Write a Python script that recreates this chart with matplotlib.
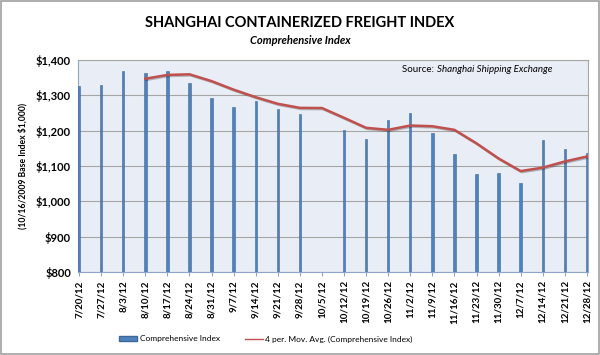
import matplotlib
matplotlib.use("Agg")
import matplotlib.pyplot as plt
import matplotlib.patheffects as pe
from matplotlib.patches import Rectangle
from matplotlib.lines import Line2D
from matplotlib.ticker import FuncFormatter
import numpy as np
import pandas as pd

# weekly dates (10/5/12 has no published value)
dates = ["7/20/12", "7/27/12", "8/3/12", "8/10/12", "8/17/12", "8/24/12",
         "8/31/12", "9/7/12", "9/14/12", "9/21/12", "9/28/12", "10/5/12",
         "10/12/12", "10/19/12", "10/26/12", "11/2/12", "11/9/12", "11/16/12",
         "11/23/12", "11/30/12", "12/7/12", "12/14/12", "12/21/12", "12/28/12"]
index_vals = [1327, 1328, 1370, 1363, 1370, 1335, 1293, 1266, 1285, 1260,
              1247, np.nan, 1202, 1175, 1230, 1251, 1194, 1134, 1077, 1080,
              1051, 1173, 1147, 1136]

plt.rcParams["font.family"] = ["Lato", "DejaVu Sans"]

s = pd.Series(index_vals, dtype=float)
ma = s.rolling(4, min_periods=1).mean()
ma.iloc[:3] = np.nan

x = np.arange(len(dates))

fig = plt.figure(figsize=(6, 3.55), dpi=100)
ax = fig.add_axes([0.13, 0.234, 0.85, 0.597])
ax.set_facecolor("#E9EEF6")

ax.bar(x, s, width=0.11, bottom=0, color="#4F81BD", edgecolor="#3C6899",
       linewidth=0.4, zorder=3, label="Comprehensive Index")
ax.plot(x, ma, color="#C0504D", linewidth=1.8, zorder=4,
        path_effects=[pe.SimpleLineShadow(offset=(0.8, -0.8), alpha=0.25),
                      pe.Normal()])

ax.set_ylim(800, 1400)
ax.set_xlim(-0.05, len(dates) - 0.95)
ax.set_yticks(range(800, 1401, 100))
ax.yaxis.set_major_formatter(FuncFormatter(lambda v, p: "${:,.0f}".format(v)))
ax.grid(axis="y", color="#A6A6A6", linewidth=0.8, zorder=1)
ax.set_axisbelow(True)

ax.set_xticks(x)
ax.set_xticklabels(dates, rotation=90, fontsize=7, fontweight="bold")
for lab in ax.get_yticklabels():
    lab.set_fontweight("bold")
ax.tick_params(axis="y", labelsize=8, length=0, pad=5)
ax.tick_params(axis="x", length=3, color="#8EA4C8", pad=3)

for side in ["top", "right"]:
    ax.spines[side].set_color("#A6A6A6")
    ax.spines[side].set_linewidth(0.8)
ax.spines["left"].set_color("#8EA4C8")
ax.spines["bottom"].set_color("#8EA4C8")

ax.set_ylabel("(10/16/2009 Base Index $1,000)", fontsize=6.2, fontweight="bold",
              labelpad=6)

fig.text(0.5, 0.935, "SHANGHAI CONTAINERIZED FREIGHT INDEX", ha="center",
         va="center", fontsize=10.5, fontweight="bold")
fig.text(0.5, 0.885, "Comprehensive Index", ha="center", va="center",
         fontsize=8, fontweight="bold", style="italic")

ax.text(0.703, 0.955, "Source: ", transform=ax.transAxes, ha="right",
        va="center", fontsize=7)
ax.text(0.703, 0.955, "Shanghai Shipping Exchange", transform=ax.transAxes,
        ha="left", va="center", fontsize=7, style="italic")

handles = [Rectangle((0, 0), 1, 1, facecolor="#4F81BD", edgecolor="#3C6899"),
           Line2D([0], [0], color="#C0504D", linewidth=1)]
fig.legend(handles, ["Comprehensive Index",
                     "4 per. Mov. Avg. (Comprehensive Index)"],
           loc="center", bbox_to_anchor=(0.443, 0.045), ncol=2, frameon=False,
           fontsize=6, handlelength=2.2, handleheight=0.5, columnspacing=3,
           handletextpad=0.3)

fig.patches.append(Rectangle((0.002, 0.003), 0.996, 0.994,
                             transform=fig.transFigure, fill=False,
                             edgecolor="#A0A0A0", linewidth=1.2))

fig.savefig("out.png", dpi=100, facecolor="white")
